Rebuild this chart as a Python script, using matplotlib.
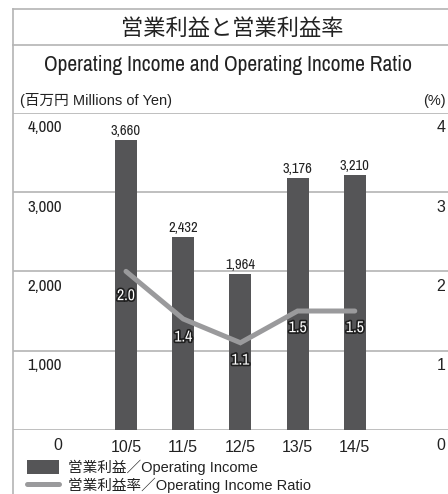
import matplotlib
matplotlib.use('Agg')
import matplotlib.pyplot as plt
import matplotlib.patheffects as pe
from matplotlib import font_manager as fm
from matplotlib.lines import Line2D
from matplotlib.transforms import blended_transform_factory, offset_copy

# データ
years = ['10/5', '11/5', '12/5', '13/5', '14/5']
income = [3660, 2432, 1964, 3176, 3210]
ratio = [2.0, 1.4, 1.1, 1.5, 1.5]
left_ticks = [0, 1000, 2000, 3000, 4000]
right_ticks = [0, 1, 2, 3, 4]

title_jp = '営業利益と営業利益率'
title_en = 'Operating Income and Operating Income Ratio'
unit_left = '(百万円 Millions of Yen)'
unit_right = '(%)'
legend_bar = '営業利益／Operating Income'
legend_line = '営業利益率／Operating Income Ratio'

BAR = '#555557'
LINE = '#9a9a9c'
GRID = '#b4b4b4'
TXT = '#222222'
sans = ['Liberation Sans', 'Noto Sans CJK JP', 'DejaVu Sans']
cjk = ['Noto Sans CJK JP', 'DejaVu Sans']

# 細字体（コンデンス）を探す
narrow_file = None
for key in ('narrow', 'condensed'):
    for f in fm.fontManager.ttflist:
        st = str(f.stretch).lower()
        if (key in f.name.lower() or key in st) and f.style == 'normal' \
                and f.weight in (400, 'normal', 'regular'):
            narrow_file = f.fname
            break
    if narrow_file:
        break


def nprops(size):
    if narrow_file is not None:
        return fm.FontProperties(fname=narrow_file, size=size)
    return fm.FontProperties(family='Liberation Sans', size=size * 0.85)


W, H = 448, 494
fig = plt.figure(figsize=(W / 100, H / 100), dpi=100)
renderer = fig.canvas.get_renderer()


def fit(t, width_px, grow=True):
    # 参考画像の文字幅に合わせてサイズを調整
    w = t.get_window_extent(renderer).width
    if w > width_px or grow:
        t.set_fontsize(t.get_fontsize() * width_px / w)


# 枠線
fig.add_artist(Line2D([13 / W, 13 / W], [0, 1 - 9 / H], color=GRID, lw=1.2))
fig.add_artist(Line2D([13 / W, 1], [1 - 9 / H, 1 - 9 / H], color=GRID, lw=1.2))
fig.add_artist(Line2D([13 / W, 1], [1 - 45 / H, 1 - 45 / H], color=GRID, lw=1.2))

fig.text(232 / W, 1 - 28 / H, title_jp, ha='center', va='center',
         fontsize=16, family=cjk, color=TXT)
sub = fig.text(228 / W, 1 - 65 / H, title_en, ha='center', va='center',
               fontproperties=nprops(15.5), color=TXT)
fit(sub, 376, grow=False)
fig.text(20 / W, 1 - 101 / H, unit_left, ha='left', va='center',
         fontsize=10.5, family=sans, color=TXT)
fig.text(446 / W, 1 - 101 / H, unit_right, ha='right', va='center',
         fontsize=10.5, family=sans, color=TXT)

# 軸
ax = fig.add_axes([13 / W, (H - 430) / H, (W - 13) / W, (430 - 112.7) / H])
step = 57.2
x = list(range(len(years)))
ax.set_xlim(-113 / step, 322 / step)
ax.set_ylim(0, 4000)
for s in ax.spines.values():
    s.set_visible(False)
ax.set_yticks(left_ticks)
ax.yaxis.grid(True, color=GRID, lw=1.2)
ax.set_axisbelow(True)
ax.tick_params(axis='y', length=0, labelleft=False)
ax.set_xticks(x, years)
ax.tick_params(axis='x', length=0, pad=7, labelsize=11.5, labelcolor=TXT)
for lab in ax.get_xticklabels():
    lab.set_family(sans)

bars = ax.bar(x, income, width=22 / step, color=BAR, zorder=2,
              label=legend_bar)

# 左右の目盛りラベル（線の下）
tr = blended_transform_factory(ax.transAxes, ax.transData)
tr_off = offset_copy(tr, fig=fig, x=0, y=-15, units='dots')
for v, r in zip(left_ticks, right_ticks):
    if v >= 1000:
        t = ax.text((62 - 13) / (W - 13), v, f'{v:,}', transform=tr_off,
                    ha='right', va='center', fontproperties=nprops(12.5),
                    color=TXT)
        fit(t, 35)
    else:
        ax.text((62 - 13) / (W - 13), v, f'{v:,}', transform=tr_off,
                ha='right', va='center', fontsize=11.5, family=sans,
                color=TXT)
    ax.text((441 - 13) / (W - 13), v, str(r), transform=tr_off, ha='center',
            va='center', fontsize=11.5, family=sans, color=TXT)

for xi, v in zip(x, income):
    t = ax.annotate(f'{v:,}', (xi, v), xytext=(0, 6.5),
                    textcoords='offset points', ha='center', va='center',
                    fontproperties=nprops(10.5), color=TXT)
    fit(t, 30)

ax2 = ax.twinx()
ax2.set_ylim(0, 4)
ax2.axis('off')
ln, = ax2.plot(x, ratio, color=LINE, lw=3.6, solid_capstyle='round',
               solid_joinstyle='miter', zorder=3, label=legend_line)

label_dy = [-17.5, -13, -12.5, -12, -12]
for xi, v, dy in zip(x, ratio, label_dy):
    t = ax2.annotate(f'{v:.1f}', (xi, v), xytext=(0, dy),
                     textcoords='offset points', ha='center', va='center',
                     fontproperties=nprops(12), color='white', zorder=4,
                     path_effects=[pe.withStroke(linewidth=2.4,
                                                 foreground='#1e1e1e')])
    fit(t, 18)

fig.legend([bars, ln], [legend_bar, legend_line], loc='upper left',
           bbox_to_anchor=(27 / W, 1 - 460 / H), frameon=False,
           prop={'family': sans, 'size': 10.5}, handlelength=2.2,
           handleheight=1.1, labelspacing=0.15, handletextpad=0.6,
           borderpad=0, borderaxespad=0, labelcolor=TXT)

plt.savefig('out.png', dpi=100)
